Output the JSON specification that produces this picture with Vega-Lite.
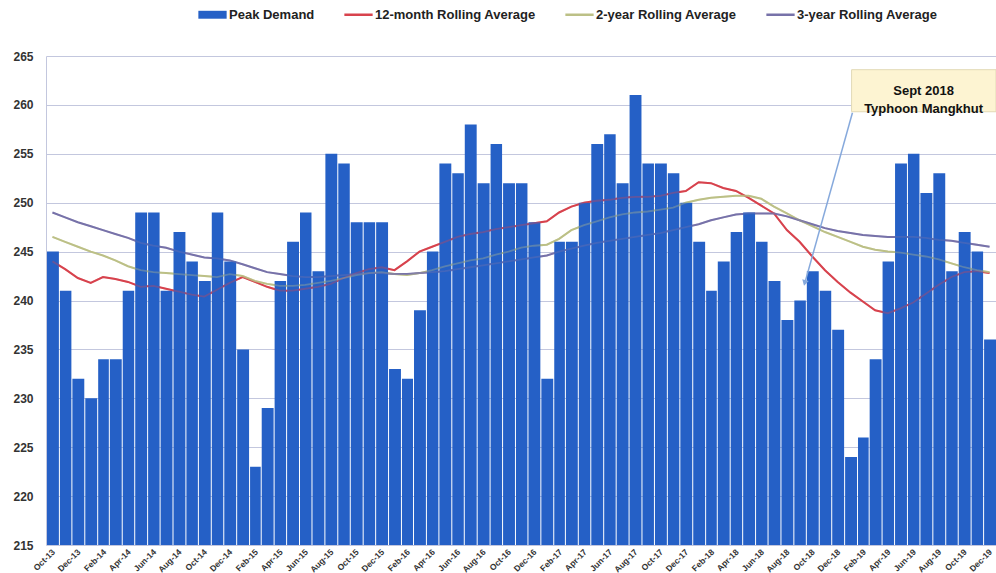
{
  "$schema": "https://vega.github.io/schema/vega-lite/v6.json",
  "width": 950,
  "height": 489,
  "autosize": {"type": "none"},
  "padding": {"left": 46, "top": 56, "right": 0, "bottom": 28},
  "background": "white",
  "config": {
    "view": {"stroke": null},
    "font": "Liberation Sans",
    "axisX": {"labelOverlap": false, "labelSeparation": -40, "labelBound": false, "labelFlush": false}
  },
  "datasets": {
    "demand": [
    {"month": "2013-10-01", "Peak Demand": 245, "12-month Rolling Average": 244.0, "2-year Rolling Average": 246.5, "3-year Rolling Average": 249.0},
    {"month": "2013-11-01", "Peak Demand": 241, "12-month Rolling Average": 243.2, "2-year Rolling Average": 246.0, "3-year Rolling Average": 248.5},
    {"month": "2013-12-01", "Peak Demand": 232, "12-month Rolling Average": 242.3, "2-year Rolling Average": 245.5, "3-year Rolling Average": 248.0},
    {"month": "2014-01-01", "Peak Demand": 230, "12-month Rolling Average": 241.8, "2-year Rolling Average": 245.0, "3-year Rolling Average": 247.6},
    {"month": "2014-02-01", "Peak Demand": 234, "12-month Rolling Average": 242.4, "2-year Rolling Average": 244.6, "3-year Rolling Average": 247.2},
    {"month": "2014-03-01", "Peak Demand": 234, "12-month Rolling Average": 242.2, "2-year Rolling Average": 244.1, "3-year Rolling Average": 246.8},
    {"month": "2014-04-01", "Peak Demand": 241, "12-month Rolling Average": 241.9, "2-year Rolling Average": 243.5, "3-year Rolling Average": 246.4},
    {"month": "2014-05-01", "Peak Demand": 249, "12-month Rolling Average": 241.4, "2-year Rolling Average": 243.1, "3-year Rolling Average": 245.9},
    {"month": "2014-06-01", "Peak Demand": 249, "12-month Rolling Average": 241.5, "2-year Rolling Average": 242.9, "3-year Rolling Average": 245.6},
    {"month": "2014-07-01", "Peak Demand": 241, "12-month Rolling Average": 241.2, "2-year Rolling Average": 242.8, "3-year Rolling Average": 245.4},
    {"month": "2014-08-01", "Peak Demand": 247, "12-month Rolling Average": 240.9, "2-year Rolling Average": 242.7, "3-year Rolling Average": 245.0},
    {"month": "2014-09-01", "Peak Demand": 244, "12-month Rolling Average": 240.6, "2-year Rolling Average": 242.6, "3-year Rolling Average": 244.7},
    {"month": "2014-10-01", "Peak Demand": 242, "12-month Rolling Average": 240.4, "2-year Rolling Average": 242.5, "3-year Rolling Average": 244.4},
    {"month": "2014-11-01", "Peak Demand": 249, "12-month Rolling Average": 241.1, "2-year Rolling Average": 242.4, "3-year Rolling Average": 244.3},
    {"month": "2014-12-01", "Peak Demand": 244, "12-month Rolling Average": 241.8, "2-year Rolling Average": 242.7, "3-year Rolling Average": 244.1},
    {"month": "2015-01-01", "Peak Demand": 235, "12-month Rolling Average": 242.4, "2-year Rolling Average": 242.5, "3-year Rolling Average": 243.7},
    {"month": "2015-02-01", "Peak Demand": 223, "12-month Rolling Average": 241.9, "2-year Rolling Average": 242.0, "3-year Rolling Average": 243.3},
    {"month": "2015-03-01", "Peak Demand": 229, "12-month Rolling Average": 241.4, "2-year Rolling Average": 241.7, "3-year Rolling Average": 242.9},
    {"month": "2015-04-01", "Peak Demand": 242, "12-month Rolling Average": 241.0, "2-year Rolling Average": 241.5, "3-year Rolling Average": 242.7},
    {"month": "2015-05-01", "Peak Demand": 246, "12-month Rolling Average": 241.0, "2-year Rolling Average": 241.5, "3-year Rolling Average": 242.5},
    {"month": "2015-06-01", "Peak Demand": 249, "12-month Rolling Average": 241.2, "2-year Rolling Average": 241.6, "3-year Rolling Average": 242.4},
    {"month": "2015-07-01", "Peak Demand": 243, "12-month Rolling Average": 241.4, "2-year Rolling Average": 241.8, "3-year Rolling Average": 242.4},
    {"month": "2015-08-01", "Peak Demand": 255, "12-month Rolling Average": 241.7, "2-year Rolling Average": 242.0, "3-year Rolling Average": 242.5},
    {"month": "2015-09-01", "Peak Demand": 254, "12-month Rolling Average": 242.3, "2-year Rolling Average": 242.3, "3-year Rolling Average": 242.6},
    {"month": "2015-10-01", "Peak Demand": 248, "12-month Rolling Average": 242.8, "2-year Rolling Average": 242.6, "3-year Rolling Average": 242.7},
    {"month": "2015-11-01", "Peak Demand": 248, "12-month Rolling Average": 243.2, "2-year Rolling Average": 242.8, "3-year Rolling Average": 242.8},
    {"month": "2015-12-01", "Peak Demand": 248, "12-month Rolling Average": 243.4, "2-year Rolling Average": 242.9, "3-year Rolling Average": 242.8},
    {"month": "2016-01-01", "Peak Demand": 233, "12-month Rolling Average": 243.1, "2-year Rolling Average": 242.7, "3-year Rolling Average": 242.7},
    {"month": "2016-02-01", "Peak Demand": 232, "12-month Rolling Average": 244.0, "2-year Rolling Average": 242.6, "3-year Rolling Average": 242.7},
    {"month": "2016-03-01", "Peak Demand": 239, "12-month Rolling Average": 245.0, "2-year Rolling Average": 242.8, "3-year Rolling Average": 242.8},
    {"month": "2016-04-01", "Peak Demand": 245, "12-month Rolling Average": 245.5, "2-year Rolling Average": 243.1, "3-year Rolling Average": 242.9},
    {"month": "2016-05-01", "Peak Demand": 254, "12-month Rolling Average": 246.0, "2-year Rolling Average": 243.5, "3-year Rolling Average": 243.0},
    {"month": "2016-06-01", "Peak Demand": 253, "12-month Rolling Average": 246.5, "2-year Rolling Average": 243.8, "3-year Rolling Average": 243.2},
    {"month": "2016-07-01", "Peak Demand": 258, "12-month Rolling Average": 246.8, "2-year Rolling Average": 244.1, "3-year Rolling Average": 243.4},
    {"month": "2016-08-01", "Peak Demand": 252, "12-month Rolling Average": 247.0, "2-year Rolling Average": 244.3, "3-year Rolling Average": 243.6},
    {"month": "2016-09-01", "Peak Demand": 256, "12-month Rolling Average": 247.3, "2-year Rolling Average": 244.7, "3-year Rolling Average": 243.8},
    {"month": "2016-10-01", "Peak Demand": 252, "12-month Rolling Average": 247.5, "2-year Rolling Average": 245.0, "3-year Rolling Average": 244.0},
    {"month": "2016-11-01", "Peak Demand": 252, "12-month Rolling Average": 247.7, "2-year Rolling Average": 245.4, "3-year Rolling Average": 244.2},
    {"month": "2016-12-01", "Peak Demand": 248, "12-month Rolling Average": 247.9, "2-year Rolling Average": 245.6, "3-year Rolling Average": 244.4},
    {"month": "2017-01-01", "Peak Demand": 232, "12-month Rolling Average": 248.1, "2-year Rolling Average": 245.7, "3-year Rolling Average": 244.6},
    {"month": "2017-02-01", "Peak Demand": 246, "12-month Rolling Average": 249.0, "2-year Rolling Average": 246.3, "3-year Rolling Average": 245.0},
    {"month": "2017-03-01", "Peak Demand": 246, "12-month Rolling Average": 249.6, "2-year Rolling Average": 247.2, "3-year Rolling Average": 245.3},
    {"month": "2017-04-01", "Peak Demand": 250, "12-month Rolling Average": 250.0, "2-year Rolling Average": 247.7, "3-year Rolling Average": 245.6},
    {"month": "2017-05-01", "Peak Demand": 256, "12-month Rolling Average": 250.2, "2-year Rolling Average": 248.1, "3-year Rolling Average": 245.9},
    {"month": "2017-06-01", "Peak Demand": 257, "12-month Rolling Average": 250.3, "2-year Rolling Average": 248.5, "3-year Rolling Average": 246.1},
    {"month": "2017-07-01", "Peak Demand": 252, "12-month Rolling Average": 250.5, "2-year Rolling Average": 248.8, "3-year Rolling Average": 246.3},
    {"month": "2017-08-01", "Peak Demand": 261, "12-month Rolling Average": 250.6, "2-year Rolling Average": 249.0, "3-year Rolling Average": 246.5},
    {"month": "2017-09-01", "Peak Demand": 254, "12-month Rolling Average": 250.6, "2-year Rolling Average": 249.1, "3-year Rolling Average": 246.7},
    {"month": "2017-10-01", "Peak Demand": 254, "12-month Rolling Average": 250.7, "2-year Rolling Average": 249.3, "3-year Rolling Average": 246.9},
    {"month": "2017-11-01", "Peak Demand": 253, "12-month Rolling Average": 251.0, "2-year Rolling Average": 249.5, "3-year Rolling Average": 247.2},
    {"month": "2017-12-01", "Peak Demand": 250, "12-month Rolling Average": 251.2, "2-year Rolling Average": 250.0, "3-year Rolling Average": 247.5},
    {"month": "2018-01-01", "Peak Demand": 246, "12-month Rolling Average": 252.1, "2-year Rolling Average": 250.3, "3-year Rolling Average": 247.8},
    {"month": "2018-02-01", "Peak Demand": 241, "12-month Rolling Average": 252.0, "2-year Rolling Average": 250.5, "3-year Rolling Average": 248.2},
    {"month": "2018-03-01", "Peak Demand": 244, "12-month Rolling Average": 251.5, "2-year Rolling Average": 250.6, "3-year Rolling Average": 248.5},
    {"month": "2018-04-01", "Peak Demand": 247, "12-month Rolling Average": 251.2, "2-year Rolling Average": 250.7, "3-year Rolling Average": 248.8},
    {"month": "2018-05-01", "Peak Demand": 249, "12-month Rolling Average": 250.5, "2-year Rolling Average": 250.7, "3-year Rolling Average": 248.9},
    {"month": "2018-06-01", "Peak Demand": 246, "12-month Rolling Average": 249.7, "2-year Rolling Average": 250.4, "3-year Rolling Average": 248.9},
    {"month": "2018-07-01", "Peak Demand": 242, "12-month Rolling Average": 248.9, "2-year Rolling Average": 249.6, "3-year Rolling Average": 248.9},
    {"month": "2018-08-01", "Peak Demand": 238, "12-month Rolling Average": 247.2, "2-year Rolling Average": 248.9, "3-year Rolling Average": 248.6},
    {"month": "2018-09-01", "Peak Demand": 240, "12-month Rolling Average": 246.0, "2-year Rolling Average": 248.2, "3-year Rolling Average": 248.2},
    {"month": "2018-10-01", "Peak Demand": 243, "12-month Rolling Average": 244.5, "2-year Rolling Average": 247.6, "3-year Rolling Average": 247.8},
    {"month": "2018-11-01", "Peak Demand": 241, "12-month Rolling Average": 243.1, "2-year Rolling Average": 247.0, "3-year Rolling Average": 247.4},
    {"month": "2018-12-01", "Peak Demand": 237, "12-month Rolling Average": 241.9, "2-year Rolling Average": 246.5, "3-year Rolling Average": 247.1},
    {"month": "2019-01-01", "Peak Demand": 224, "12-month Rolling Average": 240.8, "2-year Rolling Average": 246.0, "3-year Rolling Average": 246.9},
    {"month": "2019-02-01", "Peak Demand": 226, "12-month Rolling Average": 239.9, "2-year Rolling Average": 245.5, "3-year Rolling Average": 246.7},
    {"month": "2019-03-01", "Peak Demand": 234, "12-month Rolling Average": 239.0, "2-year Rolling Average": 245.2, "3-year Rolling Average": 246.6},
    {"month": "2019-04-01", "Peak Demand": 244, "12-month Rolling Average": 238.7, "2-year Rolling Average": 245.0, "3-year Rolling Average": 246.5},
    {"month": "2019-05-01", "Peak Demand": 254, "12-month Rolling Average": 239.2, "2-year Rolling Average": 244.9, "3-year Rolling Average": 246.5},
    {"month": "2019-06-01", "Peak Demand": 255, "12-month Rolling Average": 239.8, "2-year Rolling Average": 244.7, "3-year Rolling Average": 246.5},
    {"month": "2019-07-01", "Peak Demand": 251, "12-month Rolling Average": 240.7, "2-year Rolling Average": 244.5, "3-year Rolling Average": 246.4},
    {"month": "2019-08-01", "Peak Demand": 253, "12-month Rolling Average": 241.6, "2-year Rolling Average": 244.2, "3-year Rolling Average": 246.2},
    {"month": "2019-09-01", "Peak Demand": 243, "12-month Rolling Average": 242.4, "2-year Rolling Average": 243.8, "3-year Rolling Average": 246.1},
    {"month": "2019-10-01", "Peak Demand": 247, "12-month Rolling Average": 242.9, "2-year Rolling Average": 243.4, "3-year Rolling Average": 245.9},
    {"month": "2019-11-01", "Peak Demand": 245, "12-month Rolling Average": 243.0, "2-year Rolling Average": 243.1, "3-year Rolling Average": 245.7},
    {"month": "2019-12-01", "Peak Demand": 236, "12-month Rolling Average": 242.8, "2-year Rolling Average": 242.9, "3-year Rolling Average": 245.5}
    ],
    "note": [{"label": "Sept 2018 Typhoon Mangkhut"}]
  },
  "data": {"name": "demand"},
  "layer": [
    {
      "transform": [{"fold": ["12-month Rolling Average", "2-year Rolling Average", "3-year Rolling Average"], "as": ["series", "value"]}],
      "mark": {"type": "line", "strokeWidth": 2},
      "encoding": {
        "x": {
          "field": "month", "type": "temporal", "timeUnit": "utcyearmonth", "bandPosition": 0.5,
          "scale": {"type": "utc", "domain": [{"year": 2013, "month": 10, "date": 1, "utc": true}, {"year": 2020, "month": 1, "date": 1, "utc": true}]},
          "axis": {
            "title": null, "grid": false, "domain": false, "ticks": false,
            "tickCount": {"interval": "month", "step": 1},
            "labelExpr": "utcmonth(datum.value) % 2 == 1 ? utcFormat(datum.value, '%b-%y') : ''",
            "labelAngle": -45, "labelAlign": "right", "labelBaseline": "middle",
            "labelOffset": 7, "labelPadding": 5, "labelFontSize": 8.5, "labelFontWeight": "bold",
            "labelColor": "#333333", "labelOverlap": false, "labelSeparation": -40, "labelBound": false, "labelFlush": false
          }
        },
        "y": {
          "field": "value", "type": "quantitative",
          "scale": {"domain": [215, 265], "nice": false, "zero": false},
          "axis": {
            "title": null, "values": [215, 220, 225, 230, 235, 240, 245, 250, 255, 260, 265],
            "grid": true, "gridColor": "#c3c7de", "gridWidth": 1,
            "domain": true, "domainColor": "#c3c7de", "ticks": false,
            "labelFontSize": 12, "labelFontWeight": "bold", "labelColor": "#333333", "labelPadding": 13
          }
        },
        "color": {
          "field": "series", "type": "nominal",
          "scale": {
            "domain": ["Peak Demand", "12-month Rolling Average", "2-year Rolling Average", "3-year Rolling Average"],
            "range": ["#2560c6", "#d8434d", "#bcc086", "#7772a9"]
          },
          "legend": {
            "title": null, "orient": "none", "legendX": 160, "legendY": -48, "direction": "horizontal",
            "labelFont": "Liberation Sans", "labelFontSize": 13, "labelFontWeight": "bold", "labelColor": "#222222",
            "labelOffset": 10, "labelLimit": 400, "columnPadding": 24, "symbolSize": 800,
            "encode": {
              "symbols": {
                "update": {
                  "shape": {"signal": "datum.value === 'Peak Demand' ? 'M-1,-0.28H1V0.28H-1Z' : 'M-1,0H1'"},
                  "fill": {"signal": "datum.value === 'Peak Demand' ? '#2560c6' : 'transparent'"},
                  "stroke": {"signal": "scale('color', datum.value)"},
                  "strokeWidth": {"signal": "datum.value === 'Peak Demand' ? 0 : 2.5"},
                  "opacity": {"value": 1}
                }
              }
            }
          }
        }
      }
    },
    {
      "mark": {"type": "bar", "timeUnitBandSize": 0.86, "color": "#2560c6"},
      "encoding": {
        "x": {"field": "month", "type": "temporal", "timeUnit": "utcyearmonth"},
        "y": {"field": "Peak Demand", "type": "quantitative"},
        "y2": {"datum": 215},
        "color": {"datum": "Peak Demand"}
      }
    },
    {
      "transform": [{"fold": ["12-month Rolling Average", "2-year Rolling Average", "3-year Rolling Average"], "as": ["series", "value"]}],
      "mark": {"type": "line", "strokeWidth": 1.8, "opacity": 0.35},
      "encoding": {
        "x": {"field": "month", "type": "temporal", "timeUnit": "utcyearmonth", "bandPosition": 0.5},
        "y": {"field": "value", "type": "quantitative"},
        "color": {"field": "series", "type": "nominal"}
      }
    },
    {
      "data": {"name": "note"},
      "mark": {"type": "rect", "fill": "#fdf4d2", "stroke": "#e2d9b6", "strokeWidth": 1},
      "encoding": {
        "x": {"datum": {"year": 2019, "month": 1, "date": 19, "utc": true}, "type": "temporal"},
        "x2": {"datum": {"year": 2020, "month": 1, "date": 1, "utc": true}},
        "y": {"datum": 263.6, "type": "quantitative"},
        "y2": {"datum": 259.3}
      }
    },
    {
      "data": {"name": "note"},
      "mark": {"type": "text", "fontWeight": "bold", "fontSize": 13, "fill": "#111111", "align": "center", "baseline": "middle", "lineHeight": 18},
      "encoding": {
        "x": {"datum": {"year": 2019, "month": 7, "date": 11, "utc": true}, "type": "temporal"},
        "y": {"datum": 261.45, "type": "quantitative"},
        "text": {"value": ["Sept 2018", "Typhoon Mangkhut"]}
      }
    },
    {
      "data": {"name": "note"},
      "mark": {"type": "rule", "color": "#86a9dc", "strokeWidth": 1.5},
      "encoding": {
        "x": {"datum": {"year": 2019, "month": 1, "date": 21, "utc": true}, "type": "temporal"},
        "x2": {"datum": {"year": 2018, "month": 9, "date": 28, "utc": true}},
        "y": {"datum": 259.2, "type": "quantitative"},
        "y2": {"datum": 241.7}
      }
    },
    {
      "data": {"name": "note"},
      "mark": {"type": "point", "shape": "triangle", "filled": true, "size": 45, "angle": 195, "color": "#86a9dc", "opacity": 1},
      "encoding": {
        "x": {"datum": {"year": 2018, "month": 9, "date": 29, "utc": true}, "type": "temporal"},
        "y": {"datum": 241.9, "type": "quantitative"}
      }
    }
  ]
}
